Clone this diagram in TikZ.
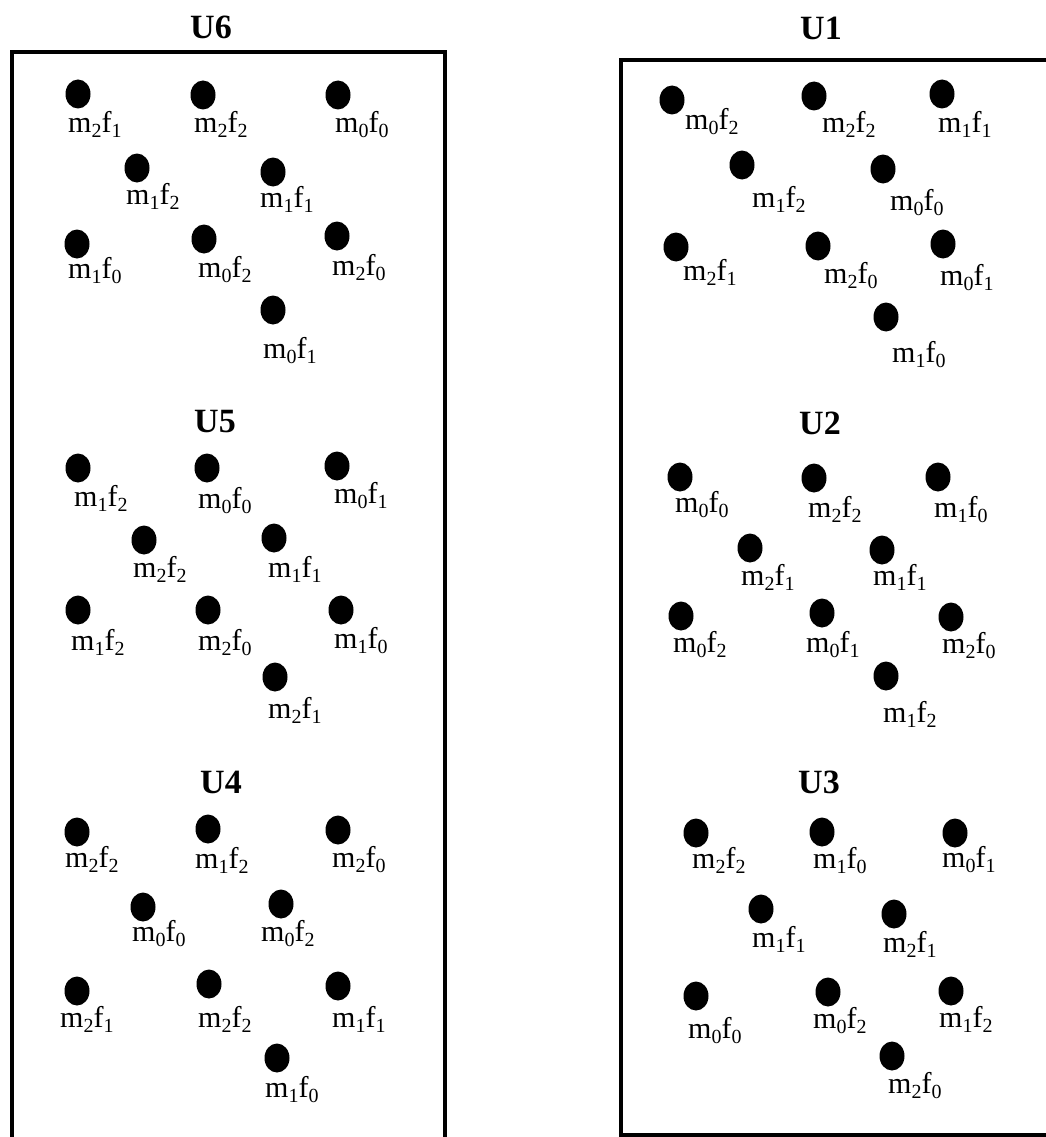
\documentclass[tikz,border=0pt]{standalone}
\usepackage{fontspec}
\setmainfont{Liberation Serif}
\usetikzlibrary{shapes.geometric}
\newcommand{\sublab}[2]{m\lower5pt\hbox{\fontsize{20}{20}\selectfont #1}f\lower5pt\hbox{\fontsize{20}{20}\selectfont #2}}
\tikzset{
  dotnode/.style={ellipse, fill=black, draw=none, minimum width=25pt, minimum height=29pt, inner sep=0pt},
  labnode/.style={anchor=base west, inner sep=0pt, font=\fontsize{30}{32}\selectfont},
  titlenode/.style={inner sep=0pt, font=\fontsize{34}{36}\selectfont\bfseries},
  boxline/.style={line width=4pt, line join=miter}
}
\begin{document}
\begin{tikzpicture}[x=1pt,y=-1pt]
\useasboundingbox[fill=white] (0,0) rectangle (1046,1137);
% boxes
\coordinate (L1) at (12,1140);
\coordinate (L2) at (12,52);
\coordinate (L3) at (445,52);
\coordinate (L4) at (445,1140);
\draw[boxline] (L1) -- (L2) -- (L3) -- (L4);
\coordinate (R1) at (1050,60);
\coordinate (R2) at (621,60);
\coordinate (R3) at (621,1135);
\coordinate (R4) at (1050,1135);
\draw[boxline] (R1) -- (R2) -- (R3) -- (R4);
% titles
\node[titlenode] (tU6) at (211,27) {U6};
\node[titlenode] (tU1) at (821,28) {U1};
\node[titlenode] (tU5) at (215,422) {U5};
\node[titlenode] (tU2) at (820,423) {U2};
\node[titlenode] (tU4) at (221,782) {U4};
\node[titlenode] (tU3) at (819,782) {U3};
% points: name / dot x / dot y / label x / label baseline / m index / f index
\foreach \n/\dx/\dy/\lx/\ly/\a/\b in {
  % U6
  a1/78/94/68/132/2/1, a2/203/95/194/132/2/2, a3/338/95/335/132/0/0,
  a4/137/168/126/204/1/2, a5/273/172/260/207/1/1,
  a6/77/244/68/278/1/0, a7/204/239/198/277/0/2, a8/337/236/332/275/2/0,
  a9/273/310/263/358/0/1,
  % U1
  b1/672/100/685/130/0/2, b2/814/96/822/132/2/2, b3/942/94/938/132/1/1,
  b4/742/165/752/207/1/2, b5/883/169/890/210/0/0,
  b6/676/247/683/280/2/1, b7/818/246/824/283/2/0, b8/943/244/940/285/0/1,
  b9/886/317/892/362/1/0,
  % U5
  c1/78/468/74/506/1/2, c2/207/468/198/508/0/0, c3/337/466/334/503/0/1,
  c4/144/540/133/577/2/2, c5/274/538/268/577/1/1,
  c6/78/610/71/650/1/2, c7/208/610/198/650/2/0, c8/341/610/334/648/1/0,
  c9/275/677/268/718/2/1,
  % U2
  d1/680/477/675/512/0/0, d2/814/478/808/517/2/2, d3/938/477/934/517/1/0,
  d4/750/548/741/585/2/1, d5/882/550/873/585/1/1,
  d6/681/616/673/652/0/2, d7/822/613/806/652/0/1, d8/951/617/942/653/2/0,
  d9/886/676/883/722/1/2,
  % U4
  e1/77/832/65/867/2/2, e2/208/829/195/868/1/2, e3/338/830/332/867/2/0,
  e4/143/907/132/941/0/0, e5/281/904/261/941/0/2,
  e6/77/991/60/1027/2/1, e7/209/984/198/1027/2/2, e8/338/986/332/1027/1/1,
  e9/277/1058/265/1097/1/0,
  % U3
  f1/696/833/692/868/2/2, f2/822/832/813/868/1/0, f3/955/833/942/867/0/1,
  f4/761/909/752/947/1/1, f5/894/914/883/952/2/1,
  f6/696/996/688/1038/0/0, f7/828/992/813/1028/0/2, f8/951/991/939/1027/1/2,
  f9/892/1056/888/1093/2/0}
{
  \node[dotnode] (dot\n) at (\dx,\dy) {};
  \node[labnode] (lab\n) at (\lx,\ly) {\sublab{\a}{\b}};
}
\end{tikzpicture}
\end{document}
